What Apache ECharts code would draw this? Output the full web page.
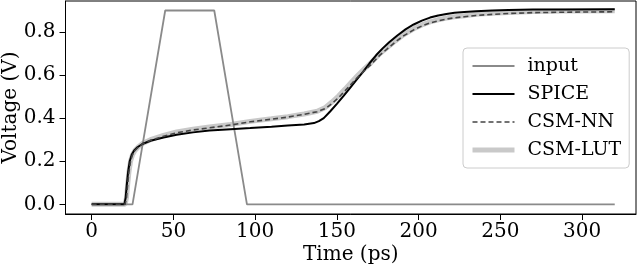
<!DOCTYPE html>
<html>
<head>
<meta charset="utf-8">
<script src="https://cdn.jsdelivr.net/npm/echarts@6/dist/echarts.min.js"></script>
<style>html,body{margin:0;padding:0;background:#fff}#c{width:640px;height:268px}</style>
</head>
<body>
<div id="c"></div>
<script>
const xTicks = [0, 50, 100, 150, 200, 250, 300];
const yTicks = [0.0, 0.2, 0.4, 0.6, 0.8];

const inputT = [0, 25, 45, 75, 95, 320];
const inputV = [0, 0, 0.9, 0.9, 0, 0];

const spiceT = [0, 20, 20.8, 21.5, 22.3, 23.3, 24.5, 26, 28, 31, 36, 44, 52, 62, 72, 85, 97, 110, 120, 130, 136, 139, 142, 146, 150, 154, 158, 162, 166, 170, 174, 178, 182, 187, 192, 197, 202, 207, 212, 217, 222, 228, 235, 245, 255, 270, 290, 320];
const spiceV = [0, 0, 0.03, 0.09, 0.15, 0.2, 0.23, 0.25, 0.265, 0.28, 0.295, 0.31, 0.323, 0.334, 0.343, 0.349, 0.354, 0.36, 0.366, 0.371, 0.377, 0.386, 0.40, 0.432, 0.466, 0.502, 0.54, 0.578, 0.615, 0.655, 0.692, 0.724, 0.752, 0.784, 0.812, 0.835, 0.853, 0.867, 0.877, 0.884, 0.889, 0.893, 0.896, 0.9, 0.902, 0.904, 0.905, 0.906];

const nnT = [0, 20.5, 21.3, 22, 22.8, 23.8, 25, 26.5, 28.5, 31, 36, 44, 52, 62, 72, 85, 97, 110, 120, 130, 138, 143, 147, 151, 155, 159, 163, 167, 171, 176, 181, 186, 191, 197, 202, 207, 212, 217, 222, 228, 235, 245, 255, 270, 290, 320];
const nnV = [0, 0, 0.03, 0.09, 0.15, 0.2, 0.23, 0.25, 0.265, 0.28, 0.297, 0.316, 0.332, 0.345, 0.355, 0.368, 0.383, 0.395, 0.405, 0.418, 0.43, 0.445, 0.468, 0.495, 0.527, 0.56, 0.592, 0.622, 0.65, 0.69, 0.723, 0.755, 0.783, 0.81, 0.828, 0.842, 0.852, 0.86, 0.866, 0.871, 0.877, 0.882, 0.886, 0.89, 0.892, 0.894];

const lutT = nnT;
const lutV = [0, 0, 0.03, 0.09, 0.15, 0.2, 0.23, 0.25, 0.266, 0.282, 0.3, 0.32, 0.336, 0.349, 0.359, 0.371, 0.385, 0.397, 0.407, 0.419, 0.432, 0.45, 0.475, 0.503, 0.535, 0.568, 0.6, 0.63, 0.658, 0.697, 0.729, 0.76, 0.788, 0.815, 0.833, 0.847, 0.857, 0.865, 0.871, 0.876, 0.882, 0.887, 0.891, 0.895, 0.897, 0.899];

const names = ['input', 'SPICE', 'CSM-NN', 'CSM-LUT'];
const FONT = 'DejaVu Serif';
const FS = 20;
const zip = (t, v) => t.map((x, i) => [x, v[i]]);

const chart = echarts.init(document.getElementById('c'), null, {renderer: 'canvas'});
chart.setOption({
  animation: false,
  backgroundColor: '#fff',
  grid: {left: 65.5, right: 4, top: 1, bottom: 54, show: true, borderColor: '#000', borderWidth: 1, backgroundColor: 'transparent', containLabel: false, outerBoundsMode: 'none'},
  legend: {
    data: names, orient: 'vertical', left: 463, top: 48,
    padding: [8, 8, 8, 7], itemGap: 8, itemWidth: 42, itemHeight: 14,
    backgroundColor: 'rgba(255,255,255,0.8)', borderColor: '#cccccc', borderWidth: 1, borderRadius: 4,
    itemStyle: {opacity: 0},
    lineStyle: {width: 'inherit'},
    textStyle: {fontFamily: FONT, fontSize: 19, color: '#000', lineHeight: 20, padding: [0, 0, 0, 8]},
    selectedMode: false
  },
  xAxis: {
    type: 'value', min: -16, max: 333,
    name: 'Time (ps)', nameLocation: 'middle', nameGap: 31, nameMoveOverlap: false,
    nameTextStyle: {fontFamily: FONT, fontSize: FS, color: '#000', verticalAlign: 'top'},
    axisLine: {show: true, onZero: false, lineStyle: {color: '#000', width: 1}},
    axisTick: {show: true, length: 6, lineStyle: {color: '#000'}, customValues: xTicks},
    axisLabel: {fontFamily: FONT, fontSize: FS, color: '#000', margin: 8, customValues: xTicks},
    splitLine: {show: false}
  },
  yAxis: {
    type: 'value', min: -0.045, max: 0.944,
    name: 'Voltage (V)', nameLocation: 'middle', nameGap: 45, nameMoveOverlap: false,
    nameTextStyle: {fontFamily: FONT, fontSize: FS, color: '#000'},
    axisLine: {show: true, onZero: false, lineStyle: {color: '#000', width: 1}},
    axisTick: {show: true, length: 6, lineStyle: {color: '#000'}, customValues: yTicks},
    axisLabel: {fontFamily: FONT, fontSize: FS, color: '#000', margin: 10, customValues: yTicks, formatter: v => v.toFixed(1)},
    splitLine: {show: false}
  },
  series: [
    {name: 'CSM-LUT', type: 'line', z: 1, symbol: 'none', data: zip(lutT, lutV), lineStyle: {color: '#c9c9c9', width: 5}, itemStyle: {color: '#c9c9c9'}},
    {name: 'input', type: 'line', z: 2, symbol: 'none', data: zip(inputT, inputV), lineStyle: {color: '#8a8a8a', width: 1.8}, itemStyle: {color: '#8a8a8a'}},
    {name: 'SPICE', type: 'line', z: 3, symbol: 'none', data: zip(spiceT, spiceV), lineStyle: {color: '#000', width: 2}, itemStyle: {color: '#000'}},
    {name: 'CSM-NN', type: 'line', z: 4, symbol: 'none', data: zip(nnT, nnV), lineStyle: {color: '#444', width: 1.6, type: [5, 3]}, itemStyle: {color: '#444'}}
  ]
});
</script>
</body>
</html>
